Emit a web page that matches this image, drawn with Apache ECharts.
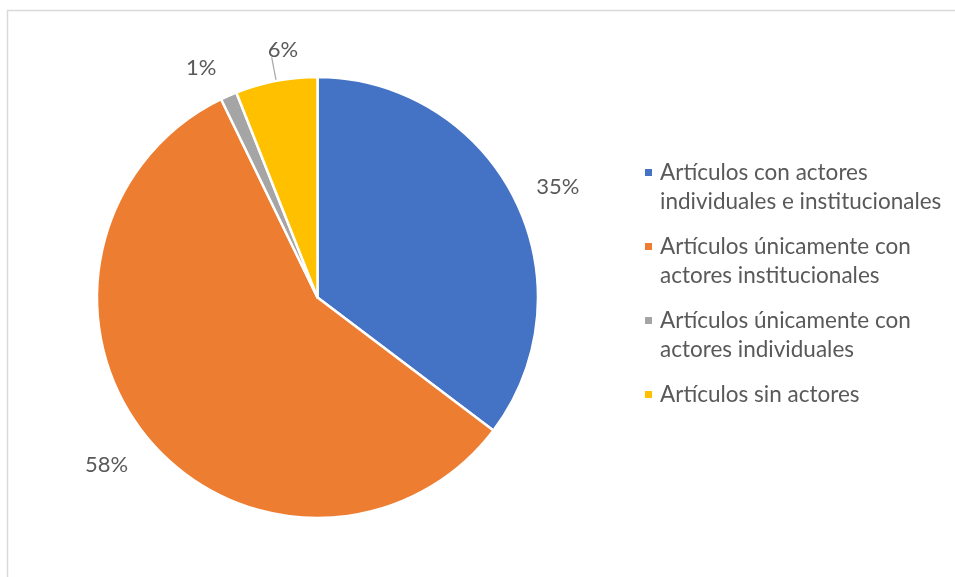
<!DOCTYPE html>
<html>
<head>
<meta charset="utf-8">
<script src="https://cdn.jsdelivr.net/npm/echarts@6/dist/echarts.min.js"></script>
<style>
html,body{margin:0;padding:0;background:#fff;}
#chart{width:955px;height:577px;}
</style>
</head>
<body>
<div id="chart"></div>
<script>
const categories = [
  'Artículos con actores individuales e institucionales',
  'Artículos únicamente con actores institucionales',
  'Artículos únicamente con actores individuales',
  'Artículos sin actores'
];
const legendLines = [
  ['Artículos con actores', 'individuales e institucionales'],
  ['Artículos únicamente con', 'actores institucionales'],
  ['Artículos únicamente con', 'actores individuales'],
  ['Artículos sin actores']
];
const values = [35.3, 57.5, 1.2, 6.0];

const palette = ['#4472C4', '#ED7D31', '#A5A5A5', '#FFC000'];
const labelOffsets = [[4, 7], [-7, 0], [-10, 12], [15, 12]];
const FONT = 'Lato';
const center = [317.5, 297.5];

const chart = echarts.init(document.getElementById('chart'), null, {renderer: 'canvas'});

const mainData = categories.map((c, i) => ({
  name: c,
  value: values[i],
  itemStyle: {color: palette[i]},
  label: {show: i === 3},
  labelLine: {show: i === 3}
}));
const ringData = categories.map((c, i) => ({
  name: c,
  value: values[i],
  label: {offset: labelOffsets[i]}
}));

chart.setOption({
  animation: false,
  backgroundColor: '#fff',
  graphic: [{
    type: 'rect',
    shape: {x: 7.5, y: 10.5, width: 1200, height: 1200},
    style: {fill: 'none', stroke: '#d9d9d9', lineWidth: 1.5},
    silent: true
  }],
  legend: {
    orient: 'vertical',
    left: 643,
    top: 129,
    padding: 0,
    itemWidth: 9,
    itemHeight: 9,
    itemGap: -13,
    icon: 'rect',
    selectedMode: false,
    data: categories,
    formatter: function (name) {
      const idx = categories.indexOf(name);
      const lines = legendLines[idx];
      if (lines.length === 1) return '\n' + lines[0] + '\n';
      return '\n' + lines.join('\n');
    },
    textStyle: {
      fontFamily: FONT,
      fontSize: 22.5,
      lineHeight: 29,
      color: '#595959',
      padding: [0, 0, 0, 2]
    }
  },
  series: [{
    type: 'pie',
    name: 'main',
    center: center,
    radius: 220.5,
    startAngle: 90,
    clockwise: true,
    avoidLabelOverlap: false,
    silent: true,
    itemStyle: {borderColor: '#fff', borderWidth: 2.5},
    label: {
      position: 'outside',
      formatter: '6%',
      color: 'rgba(0,0,0,0)',
      fontSize: 20
    },
    labelLine: {
      length: 24,
      length2: 0,
      smooth: false,
      lineStyle: {color: '#a6a6a6', width: 1.2}
    },
    emphasis: {disabled: true},
    data: mainData
  }, {
    type: 'pie',
    name: 'labels',
    center: center,
    radius: [250, 272],
    startAngle: 90,
    clockwise: true,
    silent: true,
    avoidLabelOverlap: false,
    itemStyle: {color: 'rgba(0,0,0,0)', borderWidth: 0},
    label: {
      show: true,
      position: 'inside',
      rotate: 0,
      fontFamily: FONT,
      fontSize: 22,
      color: '#595959',
      formatter: function (p) { return Math.round(p.value) + '%'; }
    },
    labelLine: {show: false},
    emphasis: {disabled: true},
    data: ringData
  }]
});
</script>
</body>
</html>
